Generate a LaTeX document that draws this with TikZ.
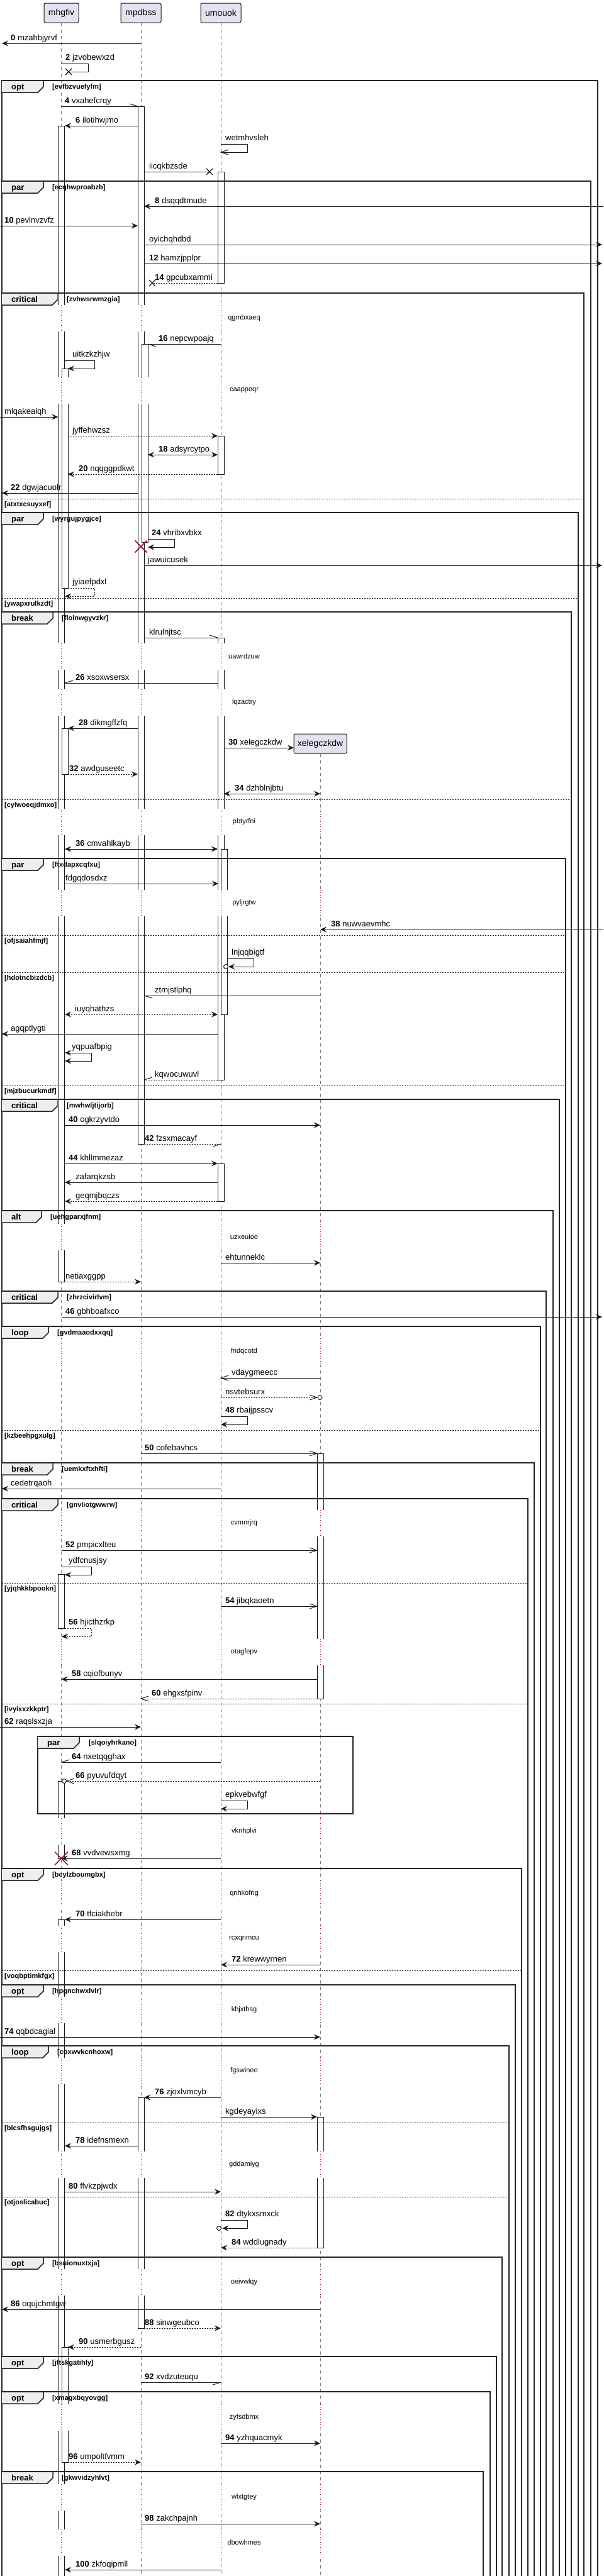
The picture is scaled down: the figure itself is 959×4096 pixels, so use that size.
\documentclass[tikz,border=0pt]{standalone}
\usepackage{fontspec}
\setmainfont{Liberation Sans}
\usetikzlibrary{arrows.meta}
\definecolor{partfill}{HTML}{E2E2F0}
\definecolor{dk}{HTML}{181818}
\definecolor{delayc}{HTML}{A80036}
\definecolor{tabgray}{HTML}{EEEEEE}
\definecolor{lifec}{HTML}{7A7A7A}
\newcommand\qfmsg{\fontsize{13}{15}\selectfont}
\newcommand\qfpart{\fontsize{14}{16}\selectfont}
\newcommand\qfdelay{\fontsize{11}{13}\selectfont}
\newcommand\qfcond{\fontsize{11}{13}\selectfont\bfseries}
\newcommand\qftab{\fontsize{13}{15}\selectfont\bfseries}
\newcommand\qN[1]{\textbf{#1}\ }
\tikzset{
  FH/.tip={Stealth[length=10pt,width=9pt,inset=3.5pt]},
  msgl/.style={draw=dk, line width=1pt},
  dsh/.style={dash pattern=on 2pt off 2pt},
  life/.style={draw=lifec, line width=0.8pt, dash pattern=on 5pt off 5pt},
  actbox/.style={draw=dk, fill=white, line width=0.8pt},
  dly/.style={draw=delayc, line width=0.9pt, dash pattern=on 1pt off 3pt},
  dlyt/.style={font=\qfdelay, inner sep=0pt, anchor=center},
  frm/.style={draw=black!85, line width=1.5pt},
  sepl/.style={draw=black!85, line width=1pt, dash pattern=on 2pt off 2pt},
  tabt/.style={font=\qftab, anchor=base west, inner sep=0pt},
  cond/.style={font=\qfcond, anchor=base west, inner sep=0pt},
  lbl/.style={font=\qfmsg, anchor=base west, inner sep=0pt},
  partbox/.style={draw=dk, fill=partfill, rounded corners=2.5pt, line width=1pt, font=\qfpart, inner sep=0pt, minimum height=31pt},
  redx/.style={draw=delayc, line width=1.5pt},
}
% message: y, x1, x2, options, label x, label
\newcommand\qM[6]{%
  \coordinate (s#1) at (#2,#1); \coordinate (e#1) at (#3,#1);
  \draw[msgl,#4] (s#1) -- (e#1);
  \node[lbl] (L#1) at (#5,#1-5) {#6};}
% self message: ytop, xstart, xright, xend, options, label x, label
\newcommand\qS[7]{%
  \coordinate (a#1) at (#2,#1); \coordinate (b#1) at (#4,#1+13);
  \draw[msgl,#5] (a#1) -- (#3,#1) -- (#3,#1+13) -- (b#1);
  \node[lbl] (S#1) at (#6,#1-6) {#7};}
\newcommand\qTH[3]{\draw[msgl] ({#1-(#3)*12},{#2-4}) -- (#1,#2) -- ({#1-(#3)*12},{#2+4});}
\newcommand\qHU[3]{\draw[msgl] (#1,#2) -- ({#1-(#3)*13},{#2-4});}
\newcommand\qHD[3]{\draw[msgl] (#1,#2) -- ({#1-(#3)*13},{#2+4});}
\newcommand\qX[2]{\draw[msgl,line width=1.3pt] ({#1-5},{#2-5}) -- ({#1+5},{#2+5}) ({#1-5},{#2+5}) -- ({#1+5},{#2-5});}
\newcommand\qRX[3]{\draw[redx] ({#1-#3},{#2-#3}) -- ({#1+#3},{#2+#3}) ({#1-#3},{#2+#3}) -- ({#1+#3},{#2-#3});}
\newcommand\qC[2]{\draw[msgl,fill=white] (#1,#2) circle (3.5pt);}
\newcommand\qA[3]{\draw[actbox] (#1,#2) rectangle (#1+10,#3);}
\newcommand\qDa[2]{%
  \fill[white] (86,#1-21) rectangle (520,#1+21);
  \draw[dly] (97.5,#1-21) -- (97.5,#1+21) (224,#1-21) -- (224,#1+21) (351,#1-21) -- (351,#1+21);
  \node[dlyt] (D#1) at (388,#1) {#2};}
\newcommand\qDb[2]{%
  \fill[white] (86,#1-21) rectangle (520,#1+21);
  \draw[dly] (97.5,#1-21) -- (97.5,#1+21) (224,#1-21) -- (224,#1+21) (351,#1-21) -- (351,#1+21) (509,#1-21) -- (509,#1+21);
  \node[dlyt] (D#1) at (388,#1) {#2};}
% frame: top, right, tab right, kind, condition
\newcommand\qF[5]{%
  \draw[frm] (3,4110) -- (3,#1) -- (#2,#1) -- (#2,4110);
  \draw[frm,fill=tabgray] (3,#1) -- (#3,#1) -- (#3,#1+10) -- (#3-9,#1+19) -- (3,#1+19);
  \node[tabt] (T#1) at (18,#1+14) {#4};
  \node[cond] (C#1) at (#3+14,#1+13) {[#5]};}
\newcommand\qE[3]{%
  \draw[sepl] (3,#1) -- (#2,#1);
  \node[cond] (E#1) at (7,#1+12) {[#3]};}
\begin{document}
\begin{tikzpicture}[x=1pt,y=-1pt]
\useasboundingbox[fill=white] (0,0) rectangle (959,4096);
% participants
\node[partbox, minimum width=55pt] (pa) at (97.5,20.5) {mhgfiv};
\node[partbox, minimum width=64pt] (pb) at (224,20.5) {mpdbss};
\node[partbox, minimum width=64pt] (pc) at (351,20.5) {umouok};
\coordinate (za) at (97.5,4110); \coordinate (zb) at (224,4110);
\coordinate (zc) at (351,4110); \coordinate (zd) at (509,4110);
\draw[life] (pa.south) -- (za);
\draw[life] (pb.south) -- (zb);
\draw[life] (pc.south) -- (zc);
\node[partbox, minimum width=84pt] (pd) at (509,1182.5) {xelegczkdw};
\draw[life] (pd.south) -- (zd);
% activations
\qA{92.5}{200}{2038}
\qA{98}{586}{935}
\qA{98}{1158}{1231}
\qA{92.5}{2503}{2589}
\qA{92.5}{2832}{2955}
\qA{92.5}{3052}{4110}
\qA{98}{3732}{3915}
\qA{219}{169}{1819}
\qA{225}{547}{862}
\qA{219}{3335}{3702}
\qA{346}{273}{450}
\qA{346}{693}{754}
\qA{346}{1014}{1717}
\qA{351}{1350}{1613}
\qA{346}{1850}{1910}
\qA{504}{2311}{2701}
\qA{504}{3366}{3574}
% delays
\qDa{506}{qgmbxaeq}
\qDa{621}{caappoqr}
\qDa{1044}{uawrdzuw}
\qDa{1117}{lqzactry}
\qDb{1307}{pbtyrfni}
\qDb{1436}{pyljrgtw}
\qDb{1967}{uzxeuioo}
\qDb{2149}{fndqcotd}
\qDb{2422}{cvmnrjrq}
\qDb{2627}{otagfepv}
\qDb{2912}{vknhplvi}
\qDb{3011}{qnhkofng}
\qDb{3083}{rcxqnmcu}
\qDb{3196}{khjxthsg}
\qDb{3293}{fgswineo}
\qDb{3442}{gddamiyg}
\qDb{3629}{oeivwlqy}
\qDb{3844}{zyfsdbmx}
\qDb{3971}{wlxtgtey}
\qDb{4043}{dbowhmes}
% frames
\qF{128}{950}{69}{opt}{evfbzvuefyfm}
\qF{288}{939}{69}{par}{ecqhwproabzb}
\qF{466}{928}{92}{critical}{zvhwsrwmzgia}
\qE{793}{928}{atxtxcsuyxef}
\qF{815}{919}{69}{par}{wyrgujpygjce}
\qE{951}{919}{ywapxrulkzdt}
\qF{973}{908}{84}{break}{flolnwgyvzkr}
\qE{1271}{908}{cylwoeqjdmxo}
\qF{1365}{899}{69}{par}{ftxdapxcqfxu}
\qE{1487}{899}{ofjsaiahfmjf}
\qE{1546}{899}{hdotncbizdcb}
\qE{1726}{899}{mjzbucurkmdf}
\qF{1748}{889}{92}{critical}{mwhwljtijorb}
\qF{1925}{879}{66}{alt}{uehgparxjfnm}
\qF{2053}{868}{92}{critical}{zhrzcivirlvm}
\qF{2109}{859}{77}{loop}{gvdmaaodxxqq}
\qE{2274}{859}{kzbeehpgxulg}
\qF{2326}{849}{84}{break}{uemkxftxhfti}
\qF{2383}{839}{92}{critical}{gnvliotgwwrw}
\qE{2517}{839}{yjqhkkbpookn}
\qE{2709}{839}{ivyixxzkkptr}
\draw[frm] (60,2761) rectangle (561,2884);
\draw[frm,fill=tabgray] (60,2761) -- (126,2761) -- (126,2771) -- (117,2780) -- (60,2780);
\node[tabt] (Tpar) at (75,2775) {par};
\node[cond] (Cpar) at (141,2774) {[slqoiyhrkano]};
\qF{2971}{829}{69}{opt}{bcylzboumgbx}
\qE{3133}{829}{voqbptimkfgx}
\qF{3156}{819}{69}{opt}{hpgnchwxlvlr}
\qF{3253}{809}{77}{loop}{coxwvkcnhoxw}
\qE{3375}{809}{blcsfhsgujgs}
\qE{3493}{809}{otjoslicabuc}
\qF{3589}{798}{69}{opt}{bsuionuxtxja}
\qF{3747}{789}{69}{opt}{jftskgatihly}
\qF{3803}{779}{69}{opt}{xmagxbqyovgg}
\qF{3930}{768}{84}{break}{gkwvidzyhlvt}
% messages
\qM{69}{224}{3}{-{FH}}{17}{\qN{0}mzahbjyrvf}
\qS{101}{97.5}{140}{109}{}{104}{\qN{2}jzvobewxzd} \qX{109}{114}
\qM{169}{97.5}{219}{}{103}{\qN{4}vxahefcrqy} \qHU{219}{169}{1}
\qM{200}{219}{103}{-{FH}}{120}{\qN{6}ilotihwjmo}
\qS{229}{351}{393}{351}{}{358}{wetmhvsleh} \qTH{351}{242}{-1}
\qM{273}{229}{333}{}{237}{iicqkbzsde} \qX{333}{273}
\qM{328}{959}{229}{-{FH}}{246}{\qN{8}dsqqdtmude}
\qM{359}{0}{219}{-{FH}}{7}{\qN{10}pevlnvzvfz}
\qM{389}{229}{957}{-{FH}}{237}{oyichqhdbd}
\qM{419}{229}{957}{-{FH}}{237}{\qN{12}hamzjpplpr}
\qM{450}{346}{242}{dsh}{246}{\qN{14}gpcubxammi} \qX{242}{450}
\qM{547}{351}{235}{}{252}{\qN{16}nepcwpoajq} \qHD{235}{547}{-1}
\qS{573}{103}{150}{108}{-{FH}}{115}{uitkzkzhjw}
\qM{663}{0}{92.5}{-{FH}}{7}{mlqakealqh}
\qM{693}{108}{346}{dsh,-{FH}}{115}{jyffehwzsz}
\qM{723}{235}{346}{{FH}-{FH}}{252}{\qN{18}adsyrcytpo}
\qM{754}{346}{108}{dsh,-{FH}}{125}{\qN{20}nqqggpdkwt}
\qM{784}{219}{3}{-{FH}}{17}{\qN{22}dgwjacuolr}
\qS{857}{235}{277}{235}{-{FH}}{241}{\qN{24}vhribxvbkx}
\qRX{224}{869}{9.5}
\qM{899}{229}{957}{-{FH}}{235}{jawuicusek}
\qS{935}{108}{150}{103}{dsh,-{FH}}{115}{jyiaefpdxl}
\qM{1014}{229}{346}{}{237}{klrulnjtsc} \qHU{346}{1014}{1}
\qM{1086}{346}{103}{}{120}{\qN{26}xsoxwsersx} \qHU{103}{1086}{-1}
\qM{1158}{219}{108}{-{FH}}{125}{\qN{28}dikmgffzfq}
\qM{1189}{356}{467}{-{FH}}{363}{\qN{30}xelegczkdw}
\qM{1231}{108}{219}{dsh,-{FH}}{110}{\qN{32}awdguseetc}
\qM{1262}{356}{509}{{FH}-{FH}}{373}{\qN{34}dzhblnjbtu}
\qM{1350}{103}{346}{{FH}-{FH}}{120}{\qN{36}cmvahlkayb}
\qM{1405}{103}{347}{-{FH}}{104}{fdgqdosdxz}
\qM{1478}{959}{509}{-{FH}}{526}{\qN{38}nuwvaevmhc}
\qS{1524}{361}{403}{363}{-{FH}}{368}{lnjqqbigtf} \qC{359}{1537}
\qM{1583}{509}{229}{}{246}{ztmjstlphq} \qHD{229}{1583}{-1}
\qM{1613}{103}{346}{dsh,{FH}-{FH}}{119}{iuyqhathzs}
\qM{1644}{346}{3}{-{FH}}{17}{agqptlygti}
\qS{1674}{103}{145}{103}{{FH}-{FH}}{114}{yqpuafbpig}
\qM{1717}{346}{229}{dsh}{246}{kqwocuwuvl} \qHU{229}{1717}{-1}
\qM{1789}{103}{509}{-{FH}}{109}{\qN{40}ogkrzyvtdo}
\qM{1819}{229}{351}{dsh}{230}{\qN{42}fzsxmacayf} \qHD{351}{1819}{1}
\qM{1850}{103}{346}{-{FH}}{109}{\qN{44}khllmmezaz}
\qM{1880}{346}{103}{-{FH}}{120}{zafarqkzsb}
\qM{1910}{346}{103}{dsh,-{FH}}{120}{geqmjbqczs}
\qM{2008}{351}{509}{-{FH}}{358}{ehtunneklc}
\qM{2038}{103}{224}{dsh,-{FH}}{104}{netiaxggpp}
\qM{2094}{97.5}{957}{-{FH}}{104}{\qN{46}gbhboafxco}
\qM{2191}{509}{351}{}{368}{vdaygmeecc} \qTH{351}{2191}{-1}
\qM{2222}{351}{504}{dsh}{358}{nsvtebsurx} \qTH{504}{2222}{1} \qC{508.5}{2222}
\qS{2252}{351}{393}{351}{-{FH}}{358}{\qN{48}rbaijpsscv}
\qM{2311}{224}{504}{}{230}{\qN{50}cofebavhcs} \qTH{504}{2311}{1}
\qM{2367}{351}{3}{-{FH}}{17}{cedetrqaoh}
\qM{2465}{97.5}{504}{}{104}{\qN{52}pmpicxlteu} \qTH{504}{2465}{1}
\qS{2491}{97.5}{145}{103}{-{FH}}{109}{ydfcnusjsy}
\qM{2554}{351}{504}{}{358}{\qN{54}jibqkaoetn} \qTH{504}{2554}{1}
\qS{2589}{103}{145}{98}{dsh,-{FH}}{109}{\qN{56}hjicthzrkp}
\qM{2670}{504}{97.5}{-{FH}}{114}{\qN{58}cqiofbunyv}
\qM{2701}{504}{224}{dsh}{241}{\qN{60}ehgxsfpinv} \qTH{224}{2701}{-1}
\qM{2746}{0}{224}{-{FH}}{7}{\qN{62}raqslsxzja}
\qM{2802}{351}{97.5}{}{114}{\qN{64}nxetqqghax} \qHU{97.5}{2802}{-1}
\qM{2832}{509}{106}{dsh}{120}{\qN{66}pyuvufdqyt} \qTH{106}{2832}{-1} \qC{102}{2832}
\qS{2863}{351}{393}{351}{-{FH}}{358}{epkvebwfgf}
\qM{2955}{351}{97.5}{-{FH}}{114}{\qN{68}vvdvewsxmg} \qRX{97.5}{2955}{10.5}
\qM{3052}{351}{103}{-{FH}}{120}{\qN{70}tfciakhebr}
\qM{3124}{509}{351}{-{FH}}{368}{\qN{72}krewwyrnen}
\qM{3239}{0}{509}{-{FH}}{7}{\qN{74}qqbdcagial}
\qM{3335}{351}{229}{-{FH}}{246}{\qN{76}zjoxlvmcyb}
\qM{3366}{351}{504}{-{FH}}{358}{kgdeyayixs}
\qM{3412}{219}{103}{-{FH}}{120}{\qN{78}idefnsmexn}
\qM{3485}{103}{351}{-{FH}}{109}{\qN{80}flvkzpjwdx}
\qS{3530}{351}{393}{353}{-{FH}}{358}{\qN{82}dtykxsmxck} \qC{348}{3543}
\qM{3574}{504}{351}{dsh,-{FH}}{368}{\qN{84}wddlugnady}
\qM{3672}{509}{3}{-{FH}}{17}{\qN{86}oqujchmtgw}
\qM{3702}{229}{351}{dsh,-{FH}}{230}{\qN{88}sinwgeubco}
\qM{3732}{224}{108}{dsh,-{FH}}{125}{\qN{90}usmerbgusz}
\qM{3788}{224}{351}{}{230}{\qN{92}xvdzuteuqu} \qHD{351}{3788}{1}
\qM{3885}{351}{509}{-{FH}}{358}{\qN{94}yzhquacmyk}
\qM{3915}{108}{224}{dsh,-{FH}}{109}{\qN{96}umpoltfvmm}
\qM{4013}{224}{509}{-{FH}}{230}{\qN{98}zakchpajnh}
\qM{4086}{351}{103}{-{FH}}{120}{\qN{100}zkfoqipmll}
\end{tikzpicture}
\end{document}
